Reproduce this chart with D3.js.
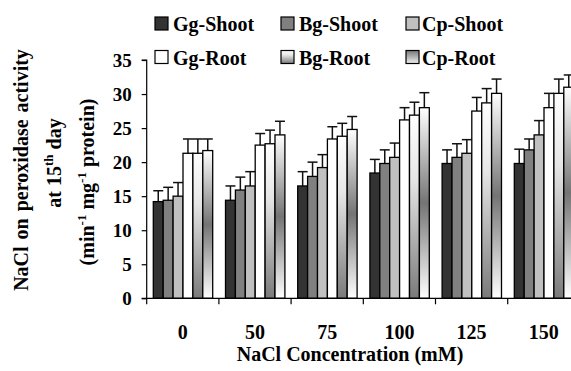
<!DOCTYPE html>
<html>
<head>
<title>NaCl peroxidase activity</title>
<script src="https://d3js.org/d3.v7.min.js"></script>
<style>
body { margin: 0; background: #fff; }
text { font-family: "Liberation Serif", "Times New Roman", serif; font-weight: bold; fill: #000; }
</style>
</head>
<body>
<div id="chart"></div>
<script>
var categories = ["0", "50", "75", "100", "125", "150"];
var seriesNames = ["Gg-Shoot", "Bg-Shoot", "Cp-Shoot", "Gg-Root", "Bg-Root", "Cp-Root"];

var ggShoot = [14.2, 14.4, 16.5, 18.4, 19.8, 19.8];
var bgShoot = [14.4, 15.9, 17.9, 19.8, 20.7, 21.8];
var cpShoot = [15.0, 16.5, 19.2, 20.7, 21.3, 24.0];
var ggRoot  = [21.3, 22.5, 23.4, 26.2, 27.5, 28.0];
var bgRoot  = [21.3, 22.7, 23.8, 26.9, 28.7, 30.1];
var cpRoot  = [21.7, 24.0, 24.8, 28.0, 30.1, 31.0];

var ggShootErr = [1.6, 2.1, 2.1, 2.0, 2.0, 2.1];
var bgShootErr = [1.9, 1.9, 2.1, 2.0, 2.0, 1.6];
var cpShootErr = [2.0, 2.1, 1.9, 2.1, 2.0, 2.1];
var ggRootErr  = [2.1, 1.7, 1.8, 1.8, 2.0, 2.1];
var bgRootErr  = [2.1, 2.0, 1.9, 1.9, 2.1, 2.1];
var cpRootErr  = [1.7, 2.0, 1.9, 2.2, 2.1, 1.8];

var yTicks = [0, 5, 10, 15, 20, 25, 30, 35];

var values = [ggShoot, bgShoot, cpShoot, ggRoot, bgRoot, cpRoot];
var errors = [ggShootErr, bgShootErr, cpShootErr, ggRootErr, bgRootErr, cpRootErr];
var fills = ["#333333", "#808080", "#c0c0c0", "#ffffff", "url(#bgGrad)", "url(#cpGrad)"];
var swatchFills = ["#333333", "#808080", "#c0c0c0", "#ffffff", "url(#bgGrad)", "url(#cpSwatch)"];

var width = 571, height = 371;

var svg = d3.select("#chart").append("svg")
  .attr("width", width)
  .attr("height", height);

var defs = svg.append("defs");
function grad(id, stops) {
  var g = defs.append("linearGradient").attr("id", id)
    .attr("x1", 0).attr("y1", 0).attr("x2", 0).attr("y2", 1);
  stops.forEach(function(s) {
    g.append("stop").attr("offset", s[0]).attr("stop-color", s[1]);
  });
}
grad("bgGrad", [[0, "#ffffff"], [0.35, "#e6e6e6"], [1, "#7a7a7a"]]);
grad("cpGrad", [[0, "#ffffff"], [0.5, "#747474"], [1, "#ffffff"]]);
grad("cpSwatch", [[0, "#777777"], [1, "#f0f0f0"]]);

var x0 = d3.scaleBand().domain(categories).range([146.7, 146.7 + 6 * 72.2]);
var x1 = d3.scaleBand().domain(seriesNames).range([6.6, 66]);
var y = d3.scaleLinear().domain([0, 35]).range([298.3, 60]);

// bars
var groups = svg.selectAll(".grp")
  .data(categories)
  .enter().append("g")
  .attr("class", "grp")
  .attr("transform", function(d) { return "translate(" + x0(d) + ",0)"; });

groups.each(function(cat, ci) {
  var g = d3.select(this);
  seriesNames.forEach(function(s, si) {
    var v = values[si][ci];
    var e = errors[si][ci];
    var bx = x1(s);
    var cx = bx + x1.bandwidth() / 2;
    g.append("line")
      .attr("x1", cx).attr("x2", cx)
      .attr("y1", y(v)).attr("y2", y(v + e))
      .attr("stroke", "#111").attr("stroke-width", 1.5);
    g.append("line")
      .attr("x1", cx - 5).attr("x2", cx + 5)
      .attr("y1", y(v + e)).attr("y2", y(v + e))
      .attr("stroke", "#111").attr("stroke-width", 1.5);
    g.append("rect")
      .attr("x", bx)
      .attr("y", y(v))
      .attr("width", x1.bandwidth())
      .attr("height", y(0) - y(v))
      .attr("fill", fills[si])
      .attr("stroke", "#000")
      .attr("stroke-width", 1.3);
  });
});

// y axis
var yAxis = svg.append("g")
  .attr("transform", "translate(146.7,0)")
  .call(d3.axisLeft(y).tickValues(yTicks).tickSize(5).tickPadding(10).tickFormat(d3.format("d")));
yAxis.selectAll("text").style("font-size", "19px").attr("dy", "0.35em");
yAxis.selectAll("line, path").attr("stroke", "#000").attr("stroke-width", 1.2);
yAxis.select(".domain").attr("d", "M-5," + y(35) + "H0V" + y(0) + "H-5");

// x axis
var xAxis = svg.append("g")
  .attr("transform", "translate(0," + y(0) + ")")
  .call(d3.axisBottom(x0).tickSize(0).tickPadding(0));
xAxis.select(".domain").remove();
xAxis.selectAll("text").style("font-size", "20px").attr("y", 40.5).attr("dy", 0);

svg.append("line")
  .attr("x1", x0.range()[0]).attr("x2", x0.range()[1])
  .attr("y1", y(0)).attr("y2", y(0))
  .attr("stroke", "#000").attr("stroke-width", 1.2);
var bounds = categories.map(function(c) { return x0(c); }).concat([x0.range()[1]]);
svg.selectAll(".xtick")
  .data(bounds)
  .enter().append("line")
  .attr("class", "xtick")
  .attr("x1", function(d) { return d; }).attr("x2", function(d) { return d; })
  .attr("y1", y(0)).attr("y2", y(0) + 6)
  .attr("stroke", "#000").attr("stroke-width", 1.2);

// x title
svg.append("text")
  .attr("x", 350).attr("y", 361)
  .attr("text-anchor", "middle")
  .style("font-size", "20px")
  .text("NaCl Concentration (mM)");

// y title
svg.append("text")
  .attr("transform", "translate(28,170) rotate(-90)")
  .attr("text-anchor", "middle")
  .style("font-size", "20px")
  .style("word-spacing", "2px")
  .text("NaCl on peroxidase activity");

var t2 = svg.append("text")
  .attr("transform", "translate(61,163) rotate(-90)")
  .attr("text-anchor", "middle")
  .style("font-size", "20px");
t2.append("tspan").text("at 15");
t2.append("tspan").attr("dy", -8).style("font-size", "13px").text("th");
t2.append("tspan").attr("dy", 8).text(" day");

var t3 = svg.append("text")
  .attr("transform", "translate(94,182) rotate(-90)")
  .attr("text-anchor", "middle")
  .style("font-size", "20px");
t3.append("tspan").text("(min");
t3.append("tspan").attr("dy", -8).style("font-size", "13px").text("-1");
t3.append("tspan").attr("dy", 8).text(" mg");
t3.append("tspan").attr("dy", -8).style("font-size", "13px").text("-1");
t3.append("tspan").attr("dy", 8).text("  protein)");

// legend
var legX = [155, 281, 406];
var legTextX = [173, 299, 422];
var legY = [17, 50.5];
var legend = svg.selectAll(".leg")
  .data(seriesNames)
  .enter().append("g")
  .attr("class", "leg")
  .attr("transform", function(d, i) {
    return "translate(0," + legY[Math.floor(i / 3)] + ")";
  });
legend.append("rect")
  .attr("x", function(d, i) { return legX[i % 3]; })
  .attr("y", 0)
  .attr("width", 13).attr("height", 13)
  .attr("fill", function(d, i) { return swatchFills[i]; })
  .attr("stroke", "#000").attr("stroke-width", 1.2);
legend.append("text")
  .attr("x", function(d, i) { return legTextX[i % 3]; })
  .attr("y", 14)
  .style("font-size", "20px")
  .text(function(d) { return d; });
</script>
</body>
</html>
